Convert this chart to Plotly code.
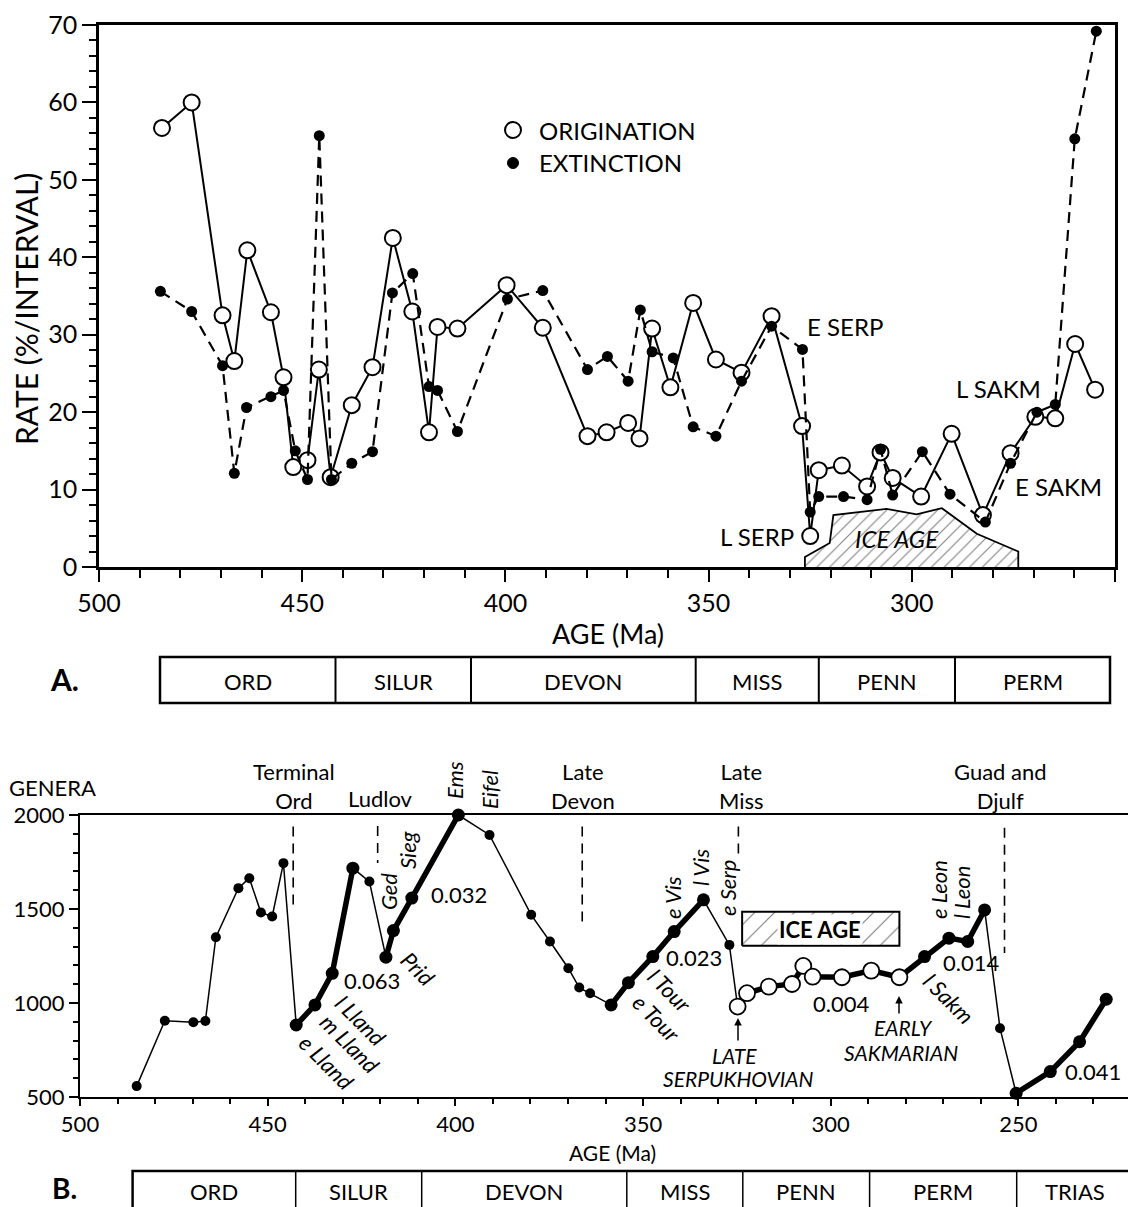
import plotly.graph_objects as go

# target picture size, and the page's default body margin (figure starts 8px in)
PAGE_W, PAGE_H = 1136, 1207
OFF = 8
W, H = PAGE_W - OFF, PAGE_H - OFF
FONT = "Lato, 'Liberation Sans', Arial, sans-serif"

# ---------------- Panel A data: origination / extinction rates ----------------
orig_age = [484.5, 477.2, 469.6, 466.7, 463.5, 457.7, 454.6, 452.2, 448.7, 445.9,
            443.0, 437.8, 432.7, 427.7, 422.9, 418.8, 416.7, 411.8, 399.7, 390.8,
            379.8, 375.1, 369.8, 367.0, 363.9, 359.4, 353.8, 348.2, 341.9, 334.5,
            327.0, 325.0, 322.9, 317.2, 311.0, 307.7, 304.7, 297.7, 290.2, 282.5,
            275.7, 269.6, 264.7, 259.8, 254.9]
orig_rate = [56.7, 60.0, 32.5, 26.6, 40.9, 32.9, 24.5, 12.9, 13.8, 25.5,
             11.6, 20.9, 25.8, 42.5, 33.0, 17.4, 31.0, 30.8, 36.4, 30.9,
             16.9, 17.4, 18.6, 16.6, 30.8, 23.2, 34.1, 26.8, 25.1, 32.4,
             18.2, 4.0, 12.5, 13.1, 10.4, 14.8, 11.5, 9.1, 17.2, 6.7,
             14.7, 19.4, 19.2, 28.8, 22.9]

ext_age = [484.9, 477.2, 469.6, 466.7, 463.7, 457.7, 454.6, 451.7, 448.7, 445.8,
           442.8, 437.8, 432.7, 427.8, 422.8, 418.8, 416.7, 411.8, 399.5, 390.8,
           379.8, 374.9, 369.8, 366.8, 363.9, 358.7, 353.8, 348.2, 341.9, 334.5,
           326.9, 325.0, 322.9, 316.8, 311.0, 307.7, 304.7, 297.4, 290.6, 281.9,
           275.7, 269.2, 264.7, 259.9, 254.6]
ext_rate = [35.6, 33.0, 26.0, 12.1, 20.6, 22.0, 22.8, 15.0, 11.3, 55.7,
            11.3, 13.4, 14.9, 35.4, 37.9, 23.3, 22.8, 17.5, 34.6, 35.7,
            25.5, 27.2, 24.0, 33.2, 27.8, 27.0, 18.1, 16.9, 24.0, 31.1,
            28.1, 7.1, 9.1, 9.1, 8.7, 15.2, 9.3, 14.9, 9.4, 5.8,
            13.4, 20.0, 21.0, 55.3, 69.2]

# Ice age outline (panel A)
ice_a_age = [326.3, 326.3, 320.2, 319.3, 306.2, 298.8, 292.6, 284.0, 273.8, 273.8]
ice_a_val = [0.0, 1.3, 3.1, 6.7, 7.5, 6.8, 7.6, 4.3, 2.0, 0.0]

# ---------------- Panel B data: generic diversity ----------------
gen_age = [484.9, 477.4, 469.8, 466.6, 463.8, 457.8, 454.9, 451.8, 448.8, 445.8,
           442.4, 437.4, 432.8, 427.3, 422.9, 418.5, 416.5, 411.6, 399.2, 390.9,
           379.8, 374.8, 369.9, 367.0, 364.1, 358.5, 353.9, 347.4, 341.7, 333.9,
           327.0, 324.8, 322.3, 316.5, 310.3, 307.3, 304.8, 297.0, 289.2, 281.7,
           275.0, 268.5, 263.5, 259.0, 254.9, 250.6, 241.5, 233.7, 226.6]
gen_val = [558, 906, 898, 904, 1350, 1611, 1664, 1481, 1460, 1744,
           883, 990, 1158, 1717, 1646, 1244, 1385, 1558, 2000, 1894,
           1469, 1327, 1185, 1082, 1052, 990, 1108, 1247, 1380, 1549,
           1309, 981, 1052, 1087, 1101, 1197, 1140, 1137, 1172, 1137,
           1247, 1345, 1327, 1495, 866, 520, 635, 794, 1020]
# index ranges of steady-rate (thick) intervals and open-circle (ice age) points
thick_ranges = [(10, 13), (15, 18), (25, 29), (31, 43), (45, 48)]
open_range = (31, 39)

# extinction-event boundaries (dashed) : age, top, bottom
event_age = [443.2, 420.7, 366.2, 324.6, 253.7]
event_top = [1939, 1942, 1939, 1939, 1932]
event_bot = [1513, 1745, 1406, 1772, 1266]

# ice age box (panel B)
ice_b_age = [323.6, 281.7]
ice_b_val = [1304, 1486]

periods_a = ["ORD", "SILUR", "DEVON", "MISS", "PENN", "PERM"]
periods_b = ["ORD", "SILUR", "DEVON", "MISS", "PENN", "PERM", "TRIAS"]


def X(px):
    return (px - OFF) / W


def Y(py):
    return 1 - (py - OFF) / H


fig = go.Figure()

# ---------- Panel A ----------
fig.add_trace(go.Scatter(
    x=ice_a_age, y=ice_a_val, mode="lines", fill="toself",
    fillcolor="white",
    fillpattern=dict(shape="/", fgcolor="black", bgcolor="white", size=9, solidity=0.12),
    line=dict(color="black", width=1.8), xaxis="x", yaxis="y",
    showlegend=False, hoverinfo="skip"))

fig.add_trace(go.Scatter(
    x=orig_age, y=orig_rate, mode="lines+markers", name="ORIGINATION",
    line=dict(color="black", width=2),
    marker=dict(symbol="circle", size=16, color="white", opacity=1,
                line=dict(color="black", width=2)),
    xaxis="x", yaxis="y", cliponaxis=False, showlegend=False))

fig.add_trace(go.Scatter(
    x=ext_age, y=ext_rate, mode="lines+markers", name="EXTINCTION",
    line=dict(color="black", width=2.2, dash="11px,7px"),
    marker=dict(symbol="circle", size=11, color="black", opacity=1),
    xaxis="x", yaxis="y", cliponaxis=False, showlegend=False))

# ---------- Panel B ----------
fig.add_trace(go.Scatter(
    x=[ice_b_age[0], ice_b_age[1], ice_b_age[1], ice_b_age[0], ice_b_age[0]],
    y=[ice_b_val[0], ice_b_val[0], ice_b_val[1], ice_b_val[1], ice_b_val[0]],
    mode="lines", fill="toself", fillcolor="white",
    fillpattern=dict(shape="/", fgcolor="black", bgcolor="white", size=14, solidity=0.08),
    line=dict(color="black", width=2), xaxis="x2", yaxis="y2",
    showlegend=False, hoverinfo="skip"))

fig.add_trace(go.Scatter(
    x=gen_age, y=gen_val, mode="lines", line=dict(color="black", width=1.5),
    xaxis="x2", yaxis="y2", showlegend=False, cliponaxis=False))

for a, b in thick_ranges:
    fig.add_trace(go.Scatter(
        x=gen_age[a:b + 1], y=gen_val[a:b + 1], mode="lines",
        line=dict(color="black", width=5.5), xaxis="x2", yaxis="y2",
        showlegend=False, cliponaxis=False))

on_thick = [any(a <= i <= b for a, b in thick_ranges) for i in range(len(gen_age))]
closed_idx = [i for i in range(len(gen_age)) if not (open_range[0] <= i <= open_range[1])]
fig.add_trace(go.Scatter(
    x=[gen_age[i] for i in closed_idx], y=[gen_val[i] for i in closed_idx],
    mode="markers",
    marker=dict(size=[13 if on_thick[i] else 10 for i in closed_idx], color="black",
                opacity=1, line=dict(width=0)),
    xaxis="x2", yaxis="y2", showlegend=False, cliponaxis=False))
fig.add_trace(go.Scatter(
    x=gen_age[open_range[0]:open_range[1] + 1], y=gen_val[open_range[0]:open_range[1] + 1],
    mode="markers", marker=dict(size=16, color="white", opacity=1,
                                line=dict(color="black", width=1.8)),
    xaxis="x2", yaxis="y2", showlegend=False, cliponaxis=False))

shapes = []
for a, t, b in zip(event_age, event_top, event_bot):
    shapes.append(dict(type="line", xref="x2", yref="y2", x0=a, x1=a, y0=t, y1=b,
                       line=dict(color="black", width=1.6, dash="10px,7px")))

# legend glyphs (panel A)
shapes.append(dict(type="circle", xref="paper", yref="paper", xsizemode="pixel", ysizemode="pixel",
                   xanchor=X(513), yanchor=Y(130), x0=-8, x1=8, y0=-8, y1=8,
                   line=dict(color="black", width=2), fillcolor="white"))
shapes.append(dict(type="circle", xref="paper", yref="paper", xsizemode="pixel", ysizemode="pixel",
                   xanchor=X(513), yanchor=Y(163), x0=-5.5, x1=5.5, y0=-5.5, y1=5.5,
                   line=dict(color="black", width=1), fillcolor="black"))

# period bars
bar_a_edges = [160, 335.5, 471, 695.7, 818.8, 955, 1110]
shapes.append(dict(type="rect", xref="paper", yref="paper", x0=X(160), x1=X(1110), y0=Y(657), y1=Y(703),
                   line=dict(color="black", width=2.5)))
for e in bar_a_edges[1:-1]:
    shapes.append(dict(type="line", xref="paper", yref="paper", x0=X(e), x1=X(e), y0=Y(657), y1=Y(703),
                       line=dict(color="black", width=2)))
bar_b_edges = [132.6, 295.7, 421.7, 626.8, 742.8, 869.6, 1016.7, 1133]
shapes.append(dict(type="rect", xref="paper", yref="paper", x0=X(132.6), x1=X(1133), y0=Y(1171), y1=Y(1230),
                   line=dict(color="black", width=2.5)))
for e in bar_b_edges[1:-1]:
    shapes.append(dict(type="line", xref="paper", yref="paper", x0=X(e), x1=X(e), y0=Y(1171), y1=Y(1230),
                       line=dict(color="black", width=1.5)))

anns = []


def ann(text, px, py, size=22, angle=0, italic=False, bold=False, xanchor="center", bg=None):
    t = text
    if italic:
        t = "<i>" + t + "</i>"
    if bold:
        t = "<b>" + t + "</b>"
    d = dict(text=t, x=X(px), y=Y(py), xref="paper", yref="paper", showarrow=False,
             textangle=angle, xanchor=xanchor, yanchor="middle",
             font=dict(family=FONT, size=size, color="black"))
    if bg:
        d["bgcolor"] = bg
    anns.append(d)


def arrow(px, py_head, py_tail):
    anns.append(dict(text="", x=X(px), y=Y(py_head), xref="paper", yref="paper",
                     showarrow=True, ax=0, ay=py_tail - py_head, arrowhead=2, arrowsize=1,
                     arrowwidth=1.5, arrowcolor="black"))


# Panel A labels
ann("RATE (%/INTERVAL)", 26, 309, size=30, angle=-90)
ann("AGE (Ma)", 608, 633, size=27)
ann("ORIGINATION", 537, 130, size=24, xanchor="left")
ann("EXTINCTION", 537, 163, size=24, xanchor="left")
ann("E SERP", 845, 327, size=24)
ann("L SERP", 757, 536, size=24)
ann("L SAKM", 998, 389, size=24)
ann("E SAKM", 1058, 487, size=24)
ann("ICE AGE", 897, 539, size=24, italic=True)
ann("A.", 64, 679, size=30, bold=True)
for i, lab in enumerate(periods_a):
    ann(lab, (bar_a_edges[i] + bar_a_edges[i + 1]) / 2, 681, size=22)

# Panel B labels
ann("GENERA", 52, 787, size=22)
ann("Terminal<br>Ord", 294, 786, size=22)
ann("Ludlov", 380, 799, size=22)
ann("Late<br>Devon", 583, 786, size=22)
ann("Late<br>Miss", 741, 786, size=22)
ann("Guad and<br>Djulf", 1000, 786, size=22)
ann("AGE (Ma)", 612, 1152, size=21)
ann("B.", 64, 1188, size=28, bold=True)
for i, lab in enumerate(periods_b):
    ann(lab, (bar_b_edges[i] + bar_b_edges[i + 1]) / 2, 1191, size=22)

for txt, px, py in [("Ems", 454, 780), ("Eifel", 489, 790), ("Ged", 388, 892), ("Sieg", 407, 850),
                    ("e Vis", 672, 898), ("l Vis", 700, 868), ("e Serp", 727, 888),
                    ("e Leon", 938, 890), ("l Leon", 961, 893)]:
    ann(txt, px, py, size=22, angle=-90, italic=True)

for txt, px, py in [("Prid", 418, 968), ("l Lland", 361, 1020), ("m Lland", 350, 1043),
                    ("e Lland", 327, 1062), ("l Tour", 670, 990), ("e Tour", 657, 1018),
                    ("l Sakm", 949, 998)]:
    ann(txt, px, py, size=22, angle=45, italic=True)

for txt, px, py in [("0.063", 372, 980), ("0.032", 459, 894), ("0.023", 694, 957),
                    ("0.004", 841, 1003), ("0.014", 971, 962), ("0.041", 1093, 1071)]:
    ann(txt, px, py, size=22)

ann("ICE AGE", 820, 929, size=22, bold=True, bg="white")
ann("LATE", 735, 1055, size=21, italic=True)
ann("SERPUKHOVIAN", 738, 1078, size=21, italic=True)
ann("EARLY", 903, 1027, size=21, italic=True)
ann("SAKMARIAN", 901, 1052, size=21, italic=True)
arrow(738, 1018, 1042)
arrow(899, 996, 1015)

axis_common = dict(showgrid=False, zeroline=False, showline=True, linecolor="black",
                   mirror=True, ticks="outside", tickcolor="black", automargin=False,
                   tickfont=dict(family=FONT, size=25, color="black"))

fig.update_layout(
    width=W, height=H, margin=dict(l=0, r=0, t=0, b=0, autoexpand=False), autosize=False,
    paper_bgcolor="white", plot_bgcolor="rgba(0,0,0,0)",
    shapes=shapes, annotations=anns, showlegend=False,
    xaxis=dict(axis_common, domain=[X(99), X(1115)], range=[500, 250], anchor="y",
               tick0=500, dtick=50, ticklen=12, tickwidth=2, linewidth=2.5,
               minor=dict(dtick=10, ticklen=8, tickwidth=2, ticks="outside", tickcolor="black")),
    yaxis=dict(axis_common, domain=[Y(567), Y(25)], range=[0, 70], anchor="x",
               dtick=10, ticklen=14, tickwidth=2, linewidth=2.5,
               minor=dict(dtick=2, ticklen=7, tickwidth=2, ticks="outside", tickcolor="black")),
    xaxis2=dict(axis_common, domain=[X(80), X(1131)], range=[500, 220], anchor="y2",
                tick0=500, dtick=50, ticklen=7, tickwidth=1.5, linewidth=2,
                tickfont=dict(family=FONT, size=22, color="black"),
                minor=dict(dtick=10, ticklen=5, tickwidth=1.5, ticks="outside", tickcolor="black")),
    yaxis2=dict(axis_common, domain=[Y(1097), Y(815)], range=[500, 2000], anchor="x2",
                dtick=500, ticklen=9, tickwidth=1.5, linewidth=2,
                tickfont=dict(family=FONT, size=22, color="black"),
                minor=dict(dtick=100, ticklen=5, tickwidth=1.5, ticks="outside", tickcolor="black")),
)

fig.write_html("out.html")
